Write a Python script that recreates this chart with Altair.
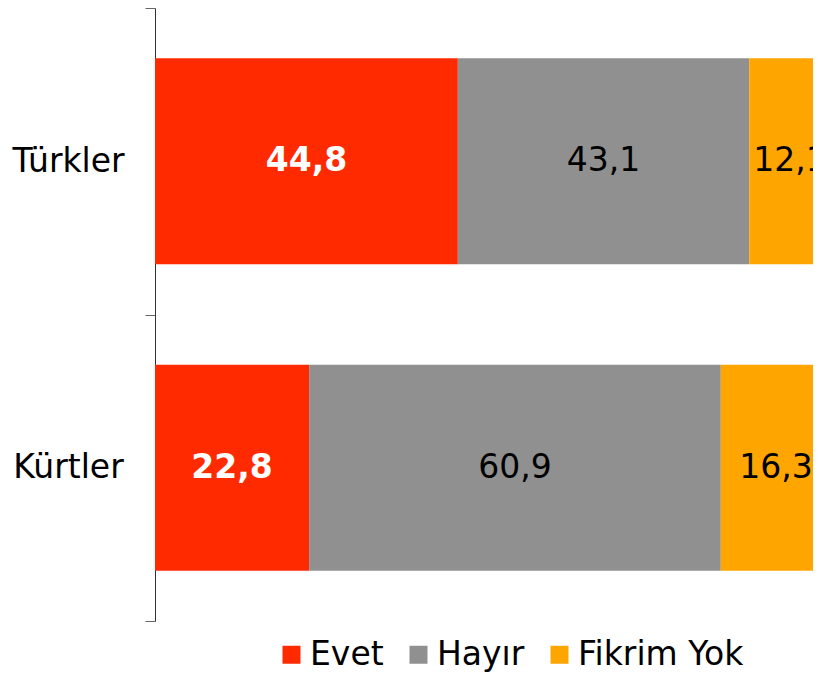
import altair as alt
import pandas as pd

groups = ["Türkler", "Kürtler"]
answers = ["Evet", "Hayır", "Fikrim Yok"]
values = {
    "Türkler": [44.8, 43.1, 12.1],
    "Kürtler": [22.8, 60.9, 16.3],
}
colors = ["#FF2A00", "#909090", "#FFA500"]

rows = []
for g in groups:
    for i, a in enumerate(answers):
        v = values[g][i]
        rows.append({"group": g, "answer": a, "idx": i, "value": v,
                     "label": f"{v:.1f}".replace(".", ",")})
df = pd.DataFrame(rows)

FONT = "DejaVu Sans"
FS = 33

base = alt.Chart(df).transform_stack(
    stack="value", groupby=["group"], as_=["x0", "x1"],
    sort=[alt.SortField("idx", order="ascending")]
).transform_calculate(mid="(datum.x0 + datum.x1) / 2")

yenc = alt.Y("group:N", sort=groups, title=None,
             scale=alt.Scale(paddingInner=0, paddingOuter=0),
             axis=alt.Axis(labelFontSize=FS, labelFont=FONT, labelColor="black",
                           labelAlign="center", labelPadding=77,
                           tickBand="extent", tickSize=10, tickColor="#666666",
                           domainColor="#333333", grid=False))

# visible plot width 658 px; 100 % would be 676 px, so the bars run past the edge
xscale = alt.Scale(domain=[0, 97.34], nice=False, zero=True)

bars = base.mark_bar(size=206, clip=True).encode(
    x=alt.X("x0:Q", scale=xscale, axis=None),
    x2="x1:Q",
    y=yenc,
    color=alt.Color("answer:N", sort=answers,
                    scale=alt.Scale(domain=answers, range=colors),
                    legend=alt.Legend(title=None, orient="none", direction="horizontal",
                                      legendX=120, legendY=630,
                                      symbolType="square", symbolSize=324,
                                      symbolStrokeWidth=0, labelFontSize=FS,
                                      labelFont=FONT, labelColor="black", labelLimit=0,
                                      labelOffset=2, columnPadding=18, padding=0)),
)

txt_white = base.transform_filter(alt.datum.answer == "Evet").mark_text(
    fontSize=FS, font=FONT, fontWeight="bold", color="white", clip=True
).encode(x=alt.X("mid:Q", scale=xscale, axis=None), y=alt.Y("group:N", sort=groups), text="label:N")

txt_black = base.transform_filter(alt.datum.answer != "Evet").mark_text(
    fontSize=FS, font=FONT, color="black", clip=True
).encode(x=alt.X("mid:Q", scale=xscale, axis=None), y=alt.Y("group:N", sort=groups), text="label:N")

chart = alt.layer(bars, txt_white, txt_black).properties(
    width=658, height=613,
    autosize=alt.AutoSizeParams(type="none"),
    padding={"left": 147, "top": 0, "right": 0, "bottom": 60},
).configure_view(stroke=None)

chart.save("out.html", embed_options={"renderer": "svg", "actions": False})
